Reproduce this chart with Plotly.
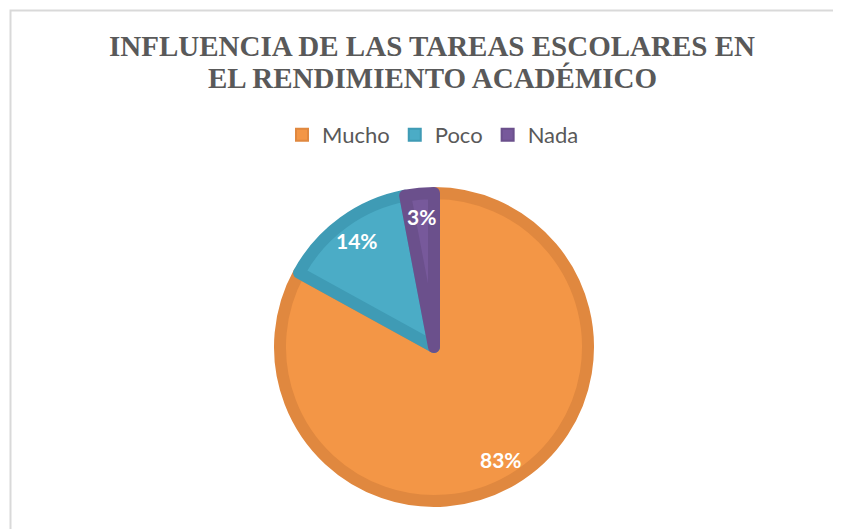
import math
import plotly.graph_objects as go

# ---- data ----
categories = ["Mucho", "Poco", "Nada"]
values = [83, 14, 3]
label_texts = ["83%", "14%", "3%"]
title_lines = ["INFLUENCIA DE LAS TAREAS ESCOLARES EN", "EL RENDIMIENTO ACADÉMICO"]

fill_colors = ["#F39646", "#4BACC6", "#77599B"]
line_colors = ["#E0883F", "#3F9BB5", "#6B508C"]

OFF = 8  # page body margin
W, H = 841 - OFF, 529 - OFF


def fx(px):
    return (px - OFF) / W


def fy(py):
    return 1 - (py - OFF) / H


cx_px, cy_px, R_px = 434, 347, 160
line_w = 12
r_inner = R_px - line_w / 2  # so stroke outer edge reaches R_px

fig = go.Figure()
fig.add_trace(go.Pie(
    labels=categories,
    values=values,
    sort=False,
    direction="clockwise",
    rotation=0,
    textinfo="none",
    hoverinfo="label+percent",
    marker=dict(colors=fill_colors, line=dict(color=line_colors, width=line_w)),
    domain=dict(
        x=[fx(cx_px - r_inner), fx(cx_px + r_inner)],
        y=[fy(cy_px + r_inner), fy(cy_px - r_inner)],
    ),
))

# percentage labels placed along each slice's mid-angle
total = sum(values)
cum = 0
annotations = []
for v, t in zip(values, label_texts):
    mid = (cum + v / 2) / total * 2 * math.pi
    cum += v
    rl = 0.82 * R_px
    annotations.append(dict(
        x=fx(cx_px + rl * math.sin(mid)), y=fy(cy_px - rl * math.cos(mid)),
        xref="paper", yref="paper",
        text=t, showarrow=False, xanchor="center", yanchor="middle",
        font=dict(family="Lato", size=21, color="white", weight="bold"),
    ))

# title as two lines
for line, yc in zip(title_lines, [46, 78]):
    annotations.append(dict(
        x=fx(432), y=fy(yc), xref="paper", yref="paper",
        text=line, showarrow=False, xanchor="center", yanchor="middle",
        font=dict(family="Liberation Serif", size=29, color="#595959", weight="bold"),
    ))

fig.update_layout(
    width=W, height=H,
    margin=dict(l=0, r=0, t=0, b=0),
    paper_bgcolor="white",
    plot_bgcolor="white",
    showlegend=True,
    legend=dict(
        orientation="h",
        x=fx(433), xanchor="center",
        y=fy(135), yanchor="middle",
        font=dict(family="Lato", size=22, color="#595959"),
        itemsizing="constant",
    ),
    annotations=annotations,
    shapes=[dict(
        type="rect", xref="paper", yref="paper",
        x0=fx(10.5), x1=1.02, y0=-0.02, y1=fy(10.5),
        line=dict(color="#D9D9D9", width=2), fillcolor="rgba(0,0,0,0)",
        layer="below",
    )],
)

fig.write_html("out.html")
